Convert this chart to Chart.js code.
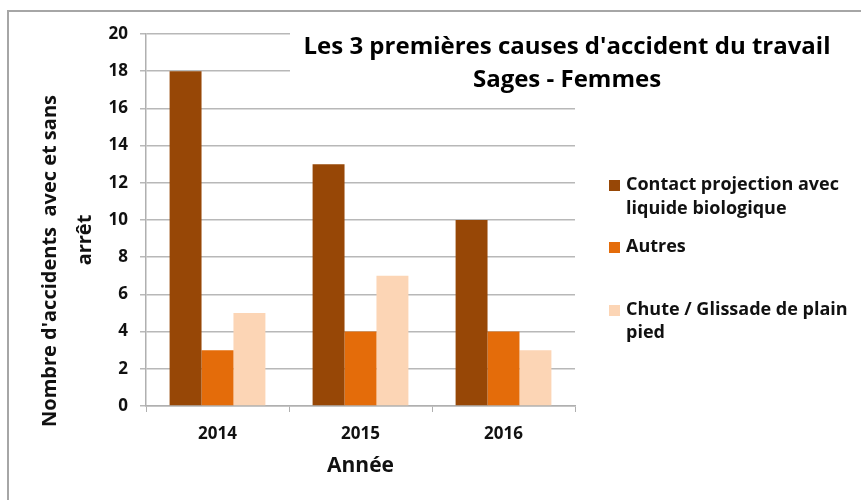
<!DOCTYPE html>
<html><head><meta charset="utf-8">
<script src="https://cdn.jsdelivr.net/npm/chart.js@4.4.1/dist/chart.umd.min.js"></script>
<style>html,body{margin:0;padding:0;background:#fff}#wrap{width:861px;height:500px;position:relative}</style>
</head><body><div id="wrap"><canvas id="c" width="861" height="500"></canvas></div>
<script>
const categories = ['2014', '2015', '2016'];
const seriesNames = ['Contact projection avec liquide biologique', 'Autres', 'Chute / Glissade de plain pied'];
const legendLines = [['Contact projection avec', 'liquide biologique'], ['Autres'], ['Chute / Glissade de plain', 'pied']];
const contactValues = [18, 13, 10];
const autresValues = [3, 4, 4];
const chuteValues = [5, 7, 3];
const seriesColors = ['#974706', '#E46C0A', '#FCD5B5'];
const yTickValues = [0, 2, 4, 6, 8, 10, 12, 14, 16, 18, 20];
const titleLines = ["Les 3 premières causes d'accident du travail", 'Sages - Femmes'];
const yAxisTitle = ["Nombre d'accidents  avec et sans", 'arrêt'];
const xAxisTitle = 'Année';

const FONT = '"Open Sans", sans-serif';

const decor = {
  id: 'decor',
  beforeDraw(chart) {
    const ctx = chart.ctx;
    ctx.save();
    ctx.fillStyle = '#fff';
    ctx.fillRect(0, 0, chart.width, chart.height);
    ctx.strokeStyle = '#a6a6a6';
    ctx.lineWidth = 2;
    ctx.beginPath();
    ctx.moveTo(8, chart.height + 2);
    ctx.lineTo(8, 11);
    ctx.lineTo(chart.width + 2, 11);
    ctx.stroke();
    ctx.restore();
  },
  afterDraw(chart) {
    const ctx = chart.ctx;
    ctx.save();
    // title box
    ctx.fillStyle = '#fff';
    ctx.fillRect(290, 24, chart.width - 290, 72);
    ctx.fillStyle = '#000';
    ctx.font = 'bold 24px ' + FONT;
    ctx.textAlign = 'center';
    ctx.textBaseline = 'middle';
    ctx.fillText(titleLines[0], 567, 47);
    ctx.fillText(titleLines[1], 567, 80);
    // y axis title
    ctx.fillStyle = '#111';
    ctx.save();
    ctx.font = 'bold 20px ' + FONT;
    ctx.translate(50, 261);
    ctx.rotate(-Math.PI / 2);
    ctx.fillText(yAxisTitle[0], 0, 0);
    ctx.restore();
    ctx.save();
    ctx.font = 'bold 20px ' + FONT;
    ctx.translate(85, 240);
    ctx.rotate(-Math.PI / 2);
    ctx.fillText(yAxisTitle[1], 0, 0);
    ctx.restore();
    // legend
    const ys = [[185, 209], [247], [310, 333]];
    ctx.font = 'bold 18px ' + FONT;
    ctx.textAlign = 'left';
    chart.data.datasets.forEach((ds, i) => {
      ctx.fillStyle = ds.backgroundColor;
      ctx.fillRect(609, ys[i][0] - 5, 11, 11);
      ctx.fillStyle = '#111';
      legendLines[i].forEach((t, j) => ctx.fillText(t, 626, ys[i][j]));
    });
    ctx.restore();
  }
};

new Chart(document.getElementById('c'), {
  type: 'bar',
  data: {
    labels: categories,
    datasets: [
      { label: seriesNames[0], data: contactValues, backgroundColor: seriesColors[0] },
      { label: seriesNames[1], data: autresValues, backgroundColor: seriesColors[1] },
      { label: seriesNames[2], data: chuteValues, backgroundColor: seriesColors[2] }
    ]
  },
  options: {
    responsive: false,
    animation: false,
    devicePixelRatio: 1,
    layout: { padding: { left: 8, top: 34, right: 286, bottom: 0 } },
    datasets: { bar: { categoryPercentage: 0.67, barPercentage: 1.0, borderWidth: 0 } },
    plugins: { legend: { display: false }, title: { display: false }, tooltip: { enabled: false } },
    scales: {
      x: {
        afterFit(s) { s.height = 94; },
        grid: { drawOnChartArea: false, drawTicks: true, tickLength: 6, color: '#b0b0b0', offset: true },
        border: { color: '#b0b0b0', width: 1.5 },
        ticks: { color: '#111', font: { family: FONT, size: 17, weight: 'bold' }, padding: 12 },
        title: { display: true, text: xAxisTitle, color: '#111', font: { family: FONT, size: 21, weight: 'bold' }, padding: { top: 0, bottom: 21 } }
      },
      y: {
        min: 0, max: 20,
        afterFit(s) { s.width = 138; },
        afterBuildTicks(s) { s.ticks = yTickValues.map(v => ({ value: v })); },
        grid: { color: '#b8b8b8', lineWidth: 1.5, tickLength: 6 },
        border: { color: '#b0b0b0', width: 1.5 },
        ticks: { color: '#111', font: { family: FONT, size: 17, weight: 'bold' }, padding: 12 }
      }
    }
  },
  plugins: [decor]
});
</script>
</body></html>
